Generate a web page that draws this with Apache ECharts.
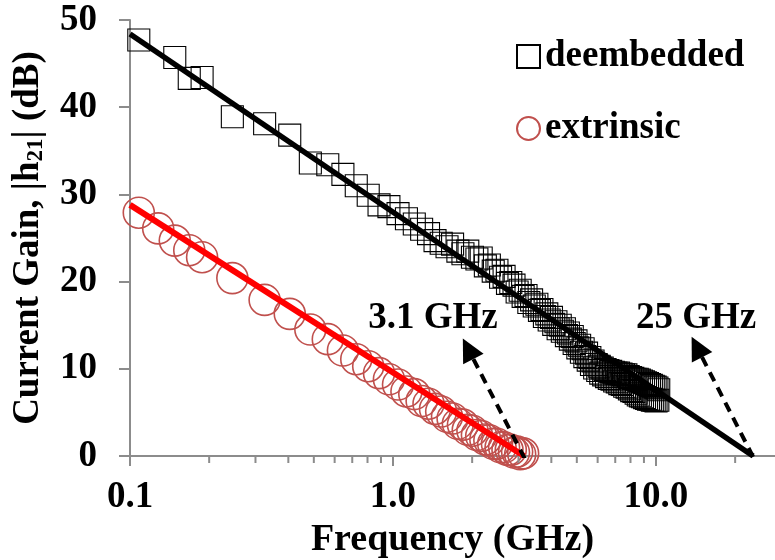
<!DOCTYPE html>
<html>
<head>
<meta charset="utf-8">
<script src="https://cdn.jsdelivr.net/npm/echarts@6/dist/echarts.min.js"></script>
<style>
html,body{margin:0;padding:0;background:#fff;}
#chart{width:775px;height:560px;}
</style>
</head>
<body>
<div id="chart"></div>
<script>
// ---- data ----
const deFreq = [0.108,0.148,0.168,0.188,
0.245,0.325,0.405,0.485,0.565,0.645,0.725,0.805,0.885,0.965,
1.045,1.125,1.205,1.285,1.365,1.445,1.525,1.605,1.685,1.765,
1.845,1.925,2.005,2.085,2.165,2.245,2.325,2.405,2.485,2.565,
2.645,2.725,2.805,2.885,2.965,3.045,3.125,3.205,3.285,3.365,
3.445,3.525,3.605,3.685,3.765,3.845,3.925,4.005,4.085,4.165,
4.245,4.325,4.405,4.485,4.565,4.645,4.725,4.805,4.885,4.965,
5.045,5.125,5.205,5.285,5.365,5.445,5.525,5.605,5.685,5.765,
5.845,5.925,6.005,6.085,6.165,6.245,6.325,6.405,6.485,6.565,
6.645,6.725,6.805,6.885,6.965,7.045,7.125,7.205,7.285,7.365,
7.445,7.525,7.605,7.685,7.765,7.845,7.925,8.005,8.085,8.165,
8.245,8.325,8.405,8.485,8.565,8.645,8.725,8.805,8.885,8.965,
9.045,9.125,9.205,9.285,9.365,9.445,9.525,9.605,9.685,9.765,
9.845,9.925,10.005,10.085,10.165,10.245];
const deGain = [47.7,45.7,43.3,43.4,
38.9,38.1,36.8,33.6,33.4,32.3,31.0,29.9,28.8,28.6,
27.8,27.2,26.6,26.0,25.5,24.7,24.4,24.0,24.3,23.5,
23.2,23.5,22.8,22.6,22.7,21.8,21.9,21.2,21.3,20.5,
20.6,19.8,19.9,19.6,18.8,19.0,18.3,18.4,17.6,17.9,
17.2,17.4,16.7,16.8,16.0,16.3,15.6,15.9,15.1,15.4,
14.6,15.0,14.3,14.6,13.8,14.1,13.4,13.7,12.9,13.2,
12.4,12.7,11.9,12.3,11.4,11.8,11.0,11.3,10.5,10.9,
10.1,10.5,9.8,10.3,9.5,10.1,9.3,9.9,9.1,9.8,
8.9,9.7,8.8,9.6,8.6,9.5,8.5,9.5,8.3,9.4,
8.2,9.3,8.0,9.3,7.9,9.1,7.7,9.0,7.5,8.9,
7.4,8.8,7.2,8.8,7.0,8.7,6.9,8.6,6.8,8.5,
6.7,8.4,6.6,8.3,6.5,8.2,6.5,8.1,6.4,8.0,
6.4,7.9,6.3,7.8,6.4,7.6];

const exFreq = [0.108,0.128,0.148,0.168,0.188,
0.245,0.325,0.405,0.485,0.565,0.645,0.725,0.805,0.885,0.965,
1.045,1.125,1.205,1.285,1.365,1.445,1.525,1.605,1.685,1.765,
1.845,1.925,2.005,2.085,2.165,2.245,2.325,2.405,2.485,2.565,
2.645,2.725,2.805,2.885,2.965,3.045,3.125];
const exGain = [27.9,26.1,24.7,23.6,22.8,
20.4,17.9,16.3,14.5,13.4,12.1,11.1,10.3,9.5,8.8,
8.2,7.4,7.1,6.3,6.0,5.4,5.1,4.5,4.3,3.7,
3.6,3.0,2.9,2.4,2.3,1.9,1.8,1.4,1.4,1.0,
1.0,0.7,0.7,0.4,0.5,0.2,0.3];

// fitted lines: [freq, gain] end points
const deFitFreq = [0.1, 23.4];
const deFitGain = [48.4, 0];
const exFitFreq = [0.1, 3.15];
const exFitGain = [28.8, 0];

// annotation arrows: tail (freq,gain) -> head (freq,gain)
const arrowTail = [[3.17, -0.3], [23.4, -0.1]];
const arrowHead = [[1.93, 12.3], [14.3, 12.5]];
const noteText = ['3.1 GHz', '25 GHz'];
const notePos = [[1.42, 15.8], [14.2, 15.8]];

const xLabelTicks = [0.1, 1, 10];
const xMinorTicks = [0.2,0.3,0.4,0.5,0.6,0.7,0.8,0.9,2,3,4,5,6,7,8,9,20];

// ---- chart ----
const FONT = '"Liberation Serif", "Times New Roman", serif';
const AXIS_COLOR = '#8c8c8c';
const chart = echarts.init(document.getElementById('chart'), null, {renderer: 'canvas'});

const zip = (a, b) => a.map((v, i) => [v, b[i]]);

const option = {
  animation: false,
  backgroundColor: '#fff',
  grid: {left: 130, right: 0, top: 20, bottom: 104, containLabel: false, outerBoundsMode: 'none'},
  legend: {
    data: ['deembedded', 'extrinsic'],
    orient: 'vertical',
    left: 511,
    top: 33,
    itemGap: 35,
    itemWidth: 23,
    itemHeight: 23,
    selectedMode: false,
    textStyle: {fontFamily: FONT, fontWeight: 'bold', fontSize: 37, color: '#000'}
  },
  xAxis: {
    type: 'log',
    logBase: 10,
    min: 0.1,
    max: 28.35,
    name: 'Frequency (GHz)',
    nameLocation: 'middle',
    nameGap: 55,
    nameTextStyle: {fontFamily: FONT, fontWeight: 'bold', fontSize: 38, color: '#000'},
    axisLine: {lineStyle: {color: AXIS_COLOR, width: 2}},
    axisTick: {show: false},
    axisLabel: {customValues: xLabelTicks, margin: 23, formatter: v => Number(v).toFixed(1),
      fontFamily: FONT, fontWeight: 'bold', fontSize: 37, color: '#000'},
    splitLine: {show: false}
  },
  yAxis: {
    type: 'value',
    min: 0,
    max: 50,
    interval: 10,
    name: '{a|Current Gain, |h}{s|21}{a|| (dB)}',
    nameLocation: 'middle',
    nameGap: 82,
    nameTextStyle: {
      rich: {
        a: {fontFamily: FONT, fontWeight: 'bold', fontSize: 37, color: '#000', lineHeight: 40},
        s: {fontFamily: FONT, fontWeight: 'bold', fontSize: 23, color: '#000', lineHeight: 22, verticalAlign: 'bottom'}
      }
    },
    axisLine: {show: true, lineStyle: {color: AXIS_COLOR, width: 2}},
    axisTick: {show: true, length: 11, lineStyle: {color: AXIS_COLOR, width: 2}},
    axisLabel: {margin: 33, fontFamily: FONT, fontWeight: 'bold', fontSize: 37, color: '#000'},
    splitLine: {show: false}
  },
  series: [
    {
      name: 'deembedded',
      type: 'scatter',
      symbol: 'rect',
      symbolSize: 22,
      itemStyle: {color: 'rgba(0,0,0,0)', borderColor: '#000', borderWidth: 1.1, opacity: 1},
      data: zip(deFreq, deGain),
      z: 2
    },
    {
      name: 'extrinsic',
      type: 'scatter',
      symbol: 'circle',
      symbolSize: 31,
      itemStyle: {color: 'rgba(0,0,0,0)', borderColor: '#c0504d', borderWidth: 1.6, opacity: 1},
      data: zip(exFreq, exGain),
      z: 2
    },
    {
      name: 'deFit',
      type: 'line',
      symbol: 'none',
      lineStyle: {color: '#000', width: 5.5},
      data: zip(deFitFreq, deFitGain),
      z: 3
    },
    {
      name: 'exFit',
      type: 'line',
      symbol: 'none',
      lineStyle: {color: '#ff0000', width: 6},
      data: zip(exFitFreq, exFitGain),
      z: 3
    },
    {
      name: 'arrows',
      type: 'lines',
      coordinateSystem: 'cartesian2d',
      symbol: ['none', 'triangle'],
      symbolSize: [21, 23],
      lineStyle: {color: '#000', width: 4, type: [10, 7], opacity: 1},
      data: arrowTail.map((t, i) => ({coords: [t, arrowHead[i]]})),
      z: 4
    },
    {
      name: 'notes',
      type: 'scatter',
      symbolSize: 0,
      silent: true,
      itemStyle: {opacity: 1},
      label: {
        show: true,
        position: 'inside',
        formatter: p => noteText[p.dataIndex],
        fontFamily: FONT, fontWeight: 'bold', fontSize: 37, color: '#000', opacity: 1
      },
      data: notePos,
      z: 5
    }
  ]
};
chart.setOption(option);

// x-axis tick marks (major and minor) placed through the axis scale
function tickLines() {
  const els = [];
  const add = (v, len) => {
    const p = chart.convertToPixel({gridIndex: 0}, [v, 0]);
    els.push({type: 'line', z: 10, silent: true,
      shape: {x1: p[0], y1: p[1], x2: p[0], y2: p[1] + len},
      style: {stroke: AXIS_COLOR, lineWidth: 2}});
  };
  xLabelTicks.forEach(v => add(v, 10));
  xMinorTicks.forEach(v => add(v, 7));
  chart.setOption({graphic: els});
}
tickLines();
</script>
</body>
</html>
